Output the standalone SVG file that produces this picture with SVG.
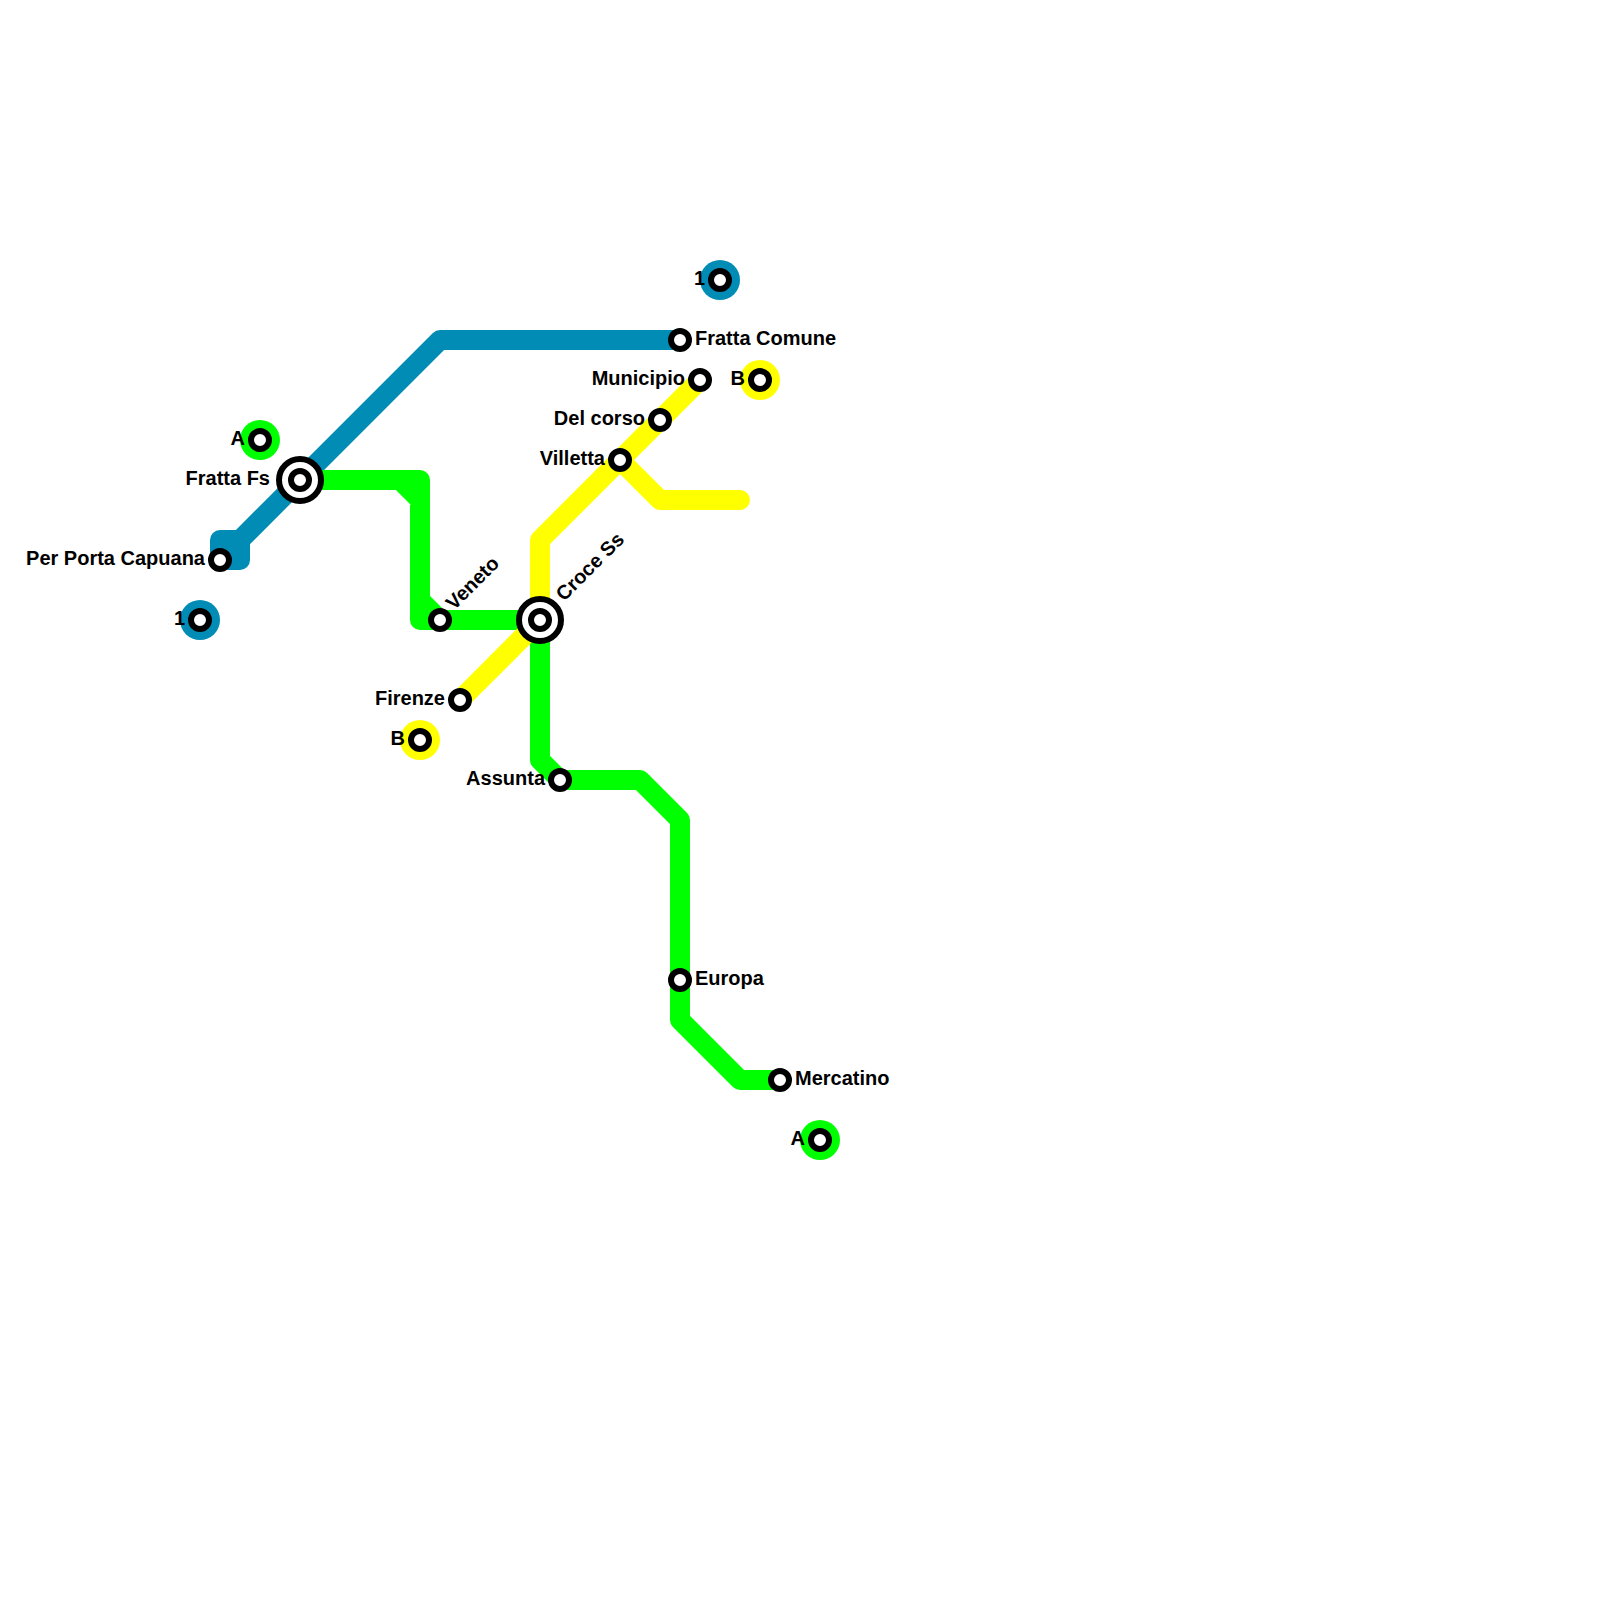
<svg xmlns="http://www.w3.org/2000/svg" width="1600" height="1600" viewBox="0 0 1600 1600">
<style>
.ln{fill:none;stroke-width:20;stroke-linejoin:round;stroke-linecap:round}
.blue{stroke:#008cb4}.green{stroke:#00ff00}.yellow{stroke:#ffff00}
.st{fill:#fff;stroke:#000;stroke-width:6}
.big{fill:#fff;stroke:#000;stroke-width:6}
.t{font-family:"Liberation Sans",Arial,sans-serif;font-size:20px;font-weight:bold;fill:#000}
.e{text-anchor:end}
</style>
<rect width="1600" height="1600" fill="#fff"/>
<g id="connectors">
<path class="ln blue" d="M220 560H240V540H220V560M240 540L440 340H680"/>
<path class="ln green" d="M300 480H420V620H540M400 480L420 500M420 600L440 620M540 620V760L560 780H640L680 820V1020L740 1080H780"/>
<path class="ln yellow" d="M700 380L540 540V620L460 700M620 460L660 500H740"/>
</g>
<g id="term-a1"><circle cx="260" cy="440" r="20" fill="#00ff00"/><circle class="st" cx="260" cy="440" r="9"/><text class="t e" x="245" y="445">A</text></g>
<g id="term-a2"><circle cx="820" cy="1140" r="20" fill="#00ff00"/><circle class="st" cx="820" cy="1140" r="9"/><text class="t e" x="805" y="1145">A</text></g>
<g id="term-1a"><circle cx="200" cy="620" r="20" fill="#008cb4"/><circle class="st" cx="200" cy="620" r="9"/><text class="t e" x="185" y="625">1</text></g>
<g id="term-1b"><circle cx="720" cy="280" r="20" fill="#008cb4"/><circle class="st" cx="720" cy="280" r="9"/><text class="t e" x="705" y="285">1</text></g>
<g id="term-b1"><circle cx="420" cy="740" r="20" fill="#ffff00"/><circle class="st" cx="420" cy="740" r="9"/><text class="t e" x="405" y="745">B</text></g>
<g id="term-b2"><circle cx="760" cy="380" r="20" fill="#ffff00"/><circle class="st" cx="760" cy="380" r="9"/><text class="t e" x="745" y="385">B</text></g>
<g id="fratta-fs"><circle class="big" cx="300" cy="480" r="21"/><circle class="st" cx="300" cy="480" r="9"/><text class="t e" x="270" y="485">Fratta Fs</text></g>
<g id="croce-ss"><circle class="big" cx="540" cy="620" r="21"/><circle class="st" cx="540" cy="620" r="9"/><text class="t" transform="translate(564 602) rotate(-45)">Croce Ss</text></g>
<g id="per-porta-capuana"><circle class="st" cx="220" cy="560" r="9"/><text class="t e" x="205" y="565">Per Porta Capuana</text></g>
<g id="veneto"><circle class="st" cx="440" cy="620" r="9"/><text class="t" transform="translate(454 611) rotate(-45)">Veneto</text></g>
<g id="firenze"><circle class="st" cx="460" cy="700" r="9"/><text class="t e" x="445" y="705">Firenze</text></g>
<g id="assunta"><circle class="st" cx="560" cy="780" r="9"/><text class="t e" x="545" y="785">Assunta</text></g>
<g id="europa"><circle class="st" cx="680" cy="980" r="9"/><text class="t" x="695" y="985">Europa</text></g>
<g id="mercatino"><circle class="st" cx="780" cy="1080" r="9"/><text class="t" x="795" y="1085">Mercatino</text></g>
<g id="fratta-comune"><circle class="st" cx="680" cy="340" r="9"/><text class="t" x="695" y="345">Fratta Comune</text></g>
<g id="municipio"><circle class="st" cx="700" cy="380" r="9"/><text class="t e" x="685" y="385">Municipio</text></g>
<g id="del-corso"><circle class="st" cx="660" cy="420" r="9"/><text class="t e" x="645" y="425">Del corso</text></g>
<g id="villetta"><circle class="st" cx="620" cy="460" r="9"/><text class="t e" x="605" y="465">Villetta</text></g>
</svg>
